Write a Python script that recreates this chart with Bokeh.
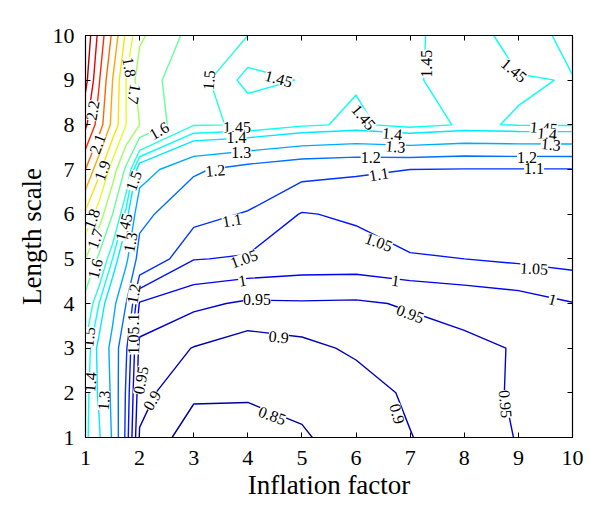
import numpy as np
from bokeh.plotting import figure
from bokeh.models import LinearAxis, FixedTicker, Range1d, ColumnDataSource
from bokeh.embed import file_html
from bokeh.resources import INLINE
from bokeh.core.properties import value

# ---- data ----
inflation = [1, 1.25, 1.5, 1.75, 2, 3, 4, 5, 6, 7, 8, 9, 10]
length_scale = [1, 2, 3, 4, 5, 6, 7, 8, 9, 10]

err_l1 = [1.46, 1.41, 1.29, 1.08, 0.895, 0.82, 0.81, 0.845, 0.871, 0.898, 0.93, 0.952, 0.97]
err_l2 = [1.47, 1.39, 1.28, 1.09, 0.917, 0.86, 0.861, 0.862, 0.875, 0.909, 0.93, 0.957, 0.975]
err_l3 = [1.49, 1.38, 1.27, 1.11, 0.935, 0.898, 0.873, 0.885, 0.909, 0.927, 0.94, 0.953, 0.98]
err_l4 = [1.56, 1.45, 1.33, 1.20, 0.995, 0.962, 0.942, 0.945, 0.943, 0.955, 0.965, 0.976, 0.998]
err_l5 = [1.70, 1.58, 1.45, 1.32, 1.16, 1.052, 1.045, 1.031, 1.03, 1.043, 1.05, 1.059, 1.068]
err_l6 = [1.88, 1.75, 1.60, 1.43, 1.23, 1.12, 1.095, 1.047, 1.057, 1.093, 1.075, 1.08, 1.085]
err_l7 = [2.10, 1.93, 1.75, 1.58, 1.35, 1.215, 1.16, 1.12, 1.108, 1.10, 1.095, 1.095, 1.095]
err_l8 = [2.32, 2.15, 1.97, 1.80, 1.70, 1.504, 1.497, 1.46, 1.44, 1.47, 1.444, 1.453, 1.455]
err_l9 = [2.43, 2.21, 2.00, 1.80, 1.65, 1.53, 1.43, 1.453, 1.455, 1.46, 1.42, 1.446, 1.452]
err_l10 = [2.48, 2.27, 2.08, 1.88, 1.717, 1.563, 1.50, 1.49, 1.48, 1.462, 1.42, 1.475, 1.435]

levels = [0.85, 0.9, 0.95, 1.0, 1.05, 1.1, 1.2, 1.3, 1.4, 1.45, 1.5,
          1.6, 1.7, 1.8, 1.9, 2.0, 2.1, 2.2, 2.3, 2.4]
ticks = [1, 2, 3, 4, 5, 6, 7, 8, 9, 10]

# contour labels (position on the chart, text, rotation in degrees)
lab_x = [4.57, 3.28, 7.31, 8.92, 2.36, 3.80, 3.79, 3.88, 3.40, 3.71,
         6.14, 6.67, 6.73, 6.27, 6.42, 9.47, 9.53, 9.60, 9.16, 9.29,
         6.42, 9.29, 6.73, 9.63, 7.00, 8.76, 6.76, 4.57, 4.45, 4.17,
         3.90, 3.93, 1.81, 1.90, 1.13, 1.22, 1.31, 1.12, 1.18, 1.18,
         1.06, 1.09, 1.34, 1.71, 1.83, 1.89, 1.89, 1.89, 1.89, 2.02, 2.23]
lab_y = [9.03, 9.00, 9.37, 9.22, 7.87, 7.93, 7.72, 7.39, 6.98, 5.86,
         8.17, 7.80, 7.51, 7.26, 6.89, 7.93, 7.80, 7.56, 7.27, 7.02,
         5.37, 4.78, 4.51, 4.09, 3.77, 1.75, 1.53, 3.25, 1.49, 4.10,
         4.51, 5.00, 9.29, 8.69, 8.32, 7.57, 6.98, 5.90, 5.45, 4.78,
         3.25, 2.24, 1.83, 5.71, 5.37, 6.75, 4.22, 3.55, 3.17, 2.28, 1.83]
lab_text = ["1.45", "1.5", "1.45", "1.45", "1.6", "1.45", "1.4", "1.3", "1.2", "1.1",
            "1.45", "1.4", "1.3", "1.2", "1.1", "1.45", "1.4", "1.3", "1.2", "1.1",
            "1.05", "1.05", "1", "1", "0.95", "0.95", "0.9", "0.9", "0.85", "0.95",
            "1", "1.05", "1.8", "1.7", "2.2", "2.1", "1.9", "1.8", "1.7", "1.6",
            "1.5", "1.4", "1.3", "1.45", "1.3", "1.5", "1.2", "1.1", "1.05", "0.95", "0.9"]
lab_angle = [-15, 85, 90, -40, 30, 0, 0, 0, 5, 10,
             -50, -5, -5, 0, 10, -5, -5, -5, 0, 0,
             -20, -3, -8, -15, -20, -85, -75, -5, -20, 0,
             10, 20, -80, -100, 80, 70, 70, 70, 70, 75,
             85, 85, 85, 75, 80, 70, 80, 90, 90, 80, 60]

Z = np.array([err_l1, err_l2, err_l3, err_l4, err_l5,
              err_l6, err_l7, err_l8, err_l9, err_l10])


def jet(v):
    r = min(max(1.5 - abs(4 * v - 3), 0.0), 1.0)
    g = min(max(1.5 - abs(4 * v - 2), 0.0), 1.0)
    b = min(max(1.5 - abs(4 * v - 1), 0.0), 1.0)
    return "#%02x%02x%02x" % (int(r * 255), int(g * 255), int(b * 255))


zmin, zmax = Z.min(), Z.max()
colors = [jet((lv - zmin) / (zmax - zmin)) for lv in levels]

SERIF = "Liberation Serif"

p = figure(width=592, height=516,
           x_range=Range1d(1, 10), y_range=Range1d(1, 10),
           output_backend="svg", toolbar_location=None,
           min_border_left=85, min_border_right=20,
           min_border_top=35, min_border_bottom=79)

p.contour(inflation, length_scale, Z, levels, line_color=colors, line_width=1.4)

src = ColumnDataSource(dict(x=lab_x, y=lab_y, text=lab_text, angle=lab_angle))
p.text(x="x", y="y", text="text", angle="angle", angle_units="deg", source=src,
       text_font=value(SERIF), text_font_size="16px", text_color="black",
       text_align="center", text_baseline="middle",
       background_fill_color="white", background_fill_alpha=1.0)

p.grid.visible = False
p.outline_line_color = "black"
p.outline_line_width = 1.2
p.background_fill_color = "white"

for ax in (p.xaxis[0], p.yaxis[0]):
    ax.ticker = FixedTicker(ticks=ticks)
    ax.major_tick_in = 5
    ax.major_tick_out = 0
    ax.minor_tick_line_color = None
    ax.axis_line_color = "black"
    ax.major_label_text_font = SERIF
    ax.major_label_text_font_size = "22px"
    ax.major_label_text_color = "black"
    ax.axis_label_text_font = SERIF
    ax.axis_label_text_font_size = "27px"
    ax.axis_label_text_font_style = "normal"
    ax.axis_label_text_color = "black"

p.xaxis.axis_label = "Inflation factor"
p.yaxis.axis_label = "Length scale"
p.xaxis.major_label_standoff = 13
p.yaxis.major_label_standoff = 11
p.xaxis.axis_label_standoff = 2
p.yaxis.axis_label_standoff = 3

for loc in ("above", "right"):
    ax = LinearAxis(ticker=FixedTicker(ticks=ticks))
    ax.major_tick_in = 5
    ax.major_tick_out = 0
    ax.minor_tick_line_color = None
    ax.major_label_text_color = None
    ax.major_label_text_font_size = "1px"
    ax.axis_line_color = "black"
    p.add_layout(ax, loc)

open("out.html", "w").write(file_html(p, INLINE))
